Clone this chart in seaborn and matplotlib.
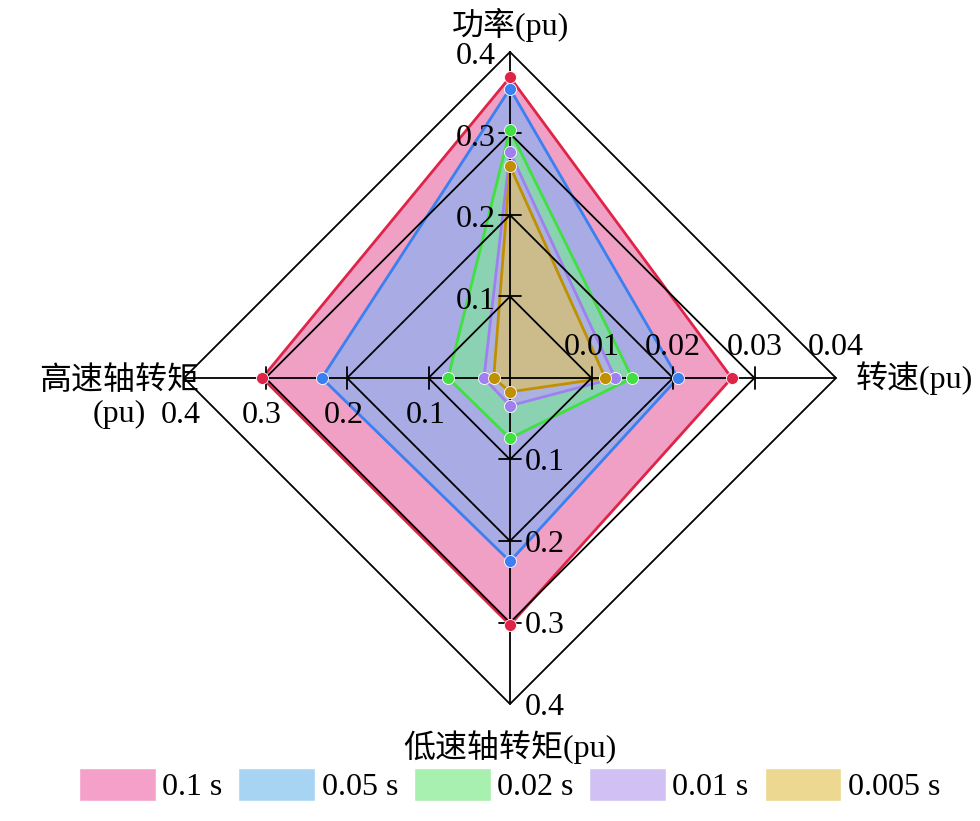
import numpy as np
import seaborn as sns
import matplotlib.pyplot as plt
from matplotlib.patches import Patch

sns.set_style('white')
plt.rcParams['font.family'] = ['Liberation Serif', 'Noto Sans CJK SC']
plt.rcParams['text.color'] = 'black'

# axes: top, right, bottom, left
axis_names = ['功率(pu)', '转速(pu)', '低速轴转矩(pu)', '高速轴转矩\n(pu)']
axis_max = [0.4, 0.04, 0.4, 0.4]
top_ticks = ['0.1', '0.2', '0.3', '0.4']
right_ticks = ['0.01', '0.02', '0.03', '0.04']

series = ['0.1 s', '0.05 s', '0.02 s', '0.01 s', '0.005 s']
v_01 = [0.369, 0.0272, 0.303, 0.304]
v_005 = [0.355, 0.0206, 0.225, 0.231]
v_002 = [0.304, 0.0150, 0.074, 0.076]
v_001 = [0.277, 0.0129, 0.034, 0.032]
v_0005 = [0.260, 0.0117, 0.017, 0.020]
values = [v_01, v_005, v_002, v_001, v_0005]

fills = ['#ec80b0', '#90b0f0', '#80e0a0', '#b8a8f0', '#d8c070']
edges = ['#e02448', '#3a80f0', '#40e040', '#a080f0', '#c09000']
legend_cols = ['#f4a0c8', '#a8d4f4', '#a8f0b0', '#d0c0f4', '#ecd890']

dirs = np.array([[0, 1], [1, 0], [0, -1], [-1, 0]])

fig = plt.figure(figsize=(9.8, 8.21), dpi=100)
ax = fig.add_axes([0, 0, 1, 1])
ax.set_xlim(-510 / 326, 470 / 326)
ax.set_ylim((378 - 821) / 326, 378 / 326)
ax.axis('off')

# grid diamonds and axes (drawn over the fills)
for r in [0.25, 0.5, 0.75, 1.0]:
    pts = np.vstack([dirs * r, dirs[:1] * r])
    ax.plot(pts[:, 0], pts[:, 1], color='black', lw=1.3, zorder=5)
for d in dirs:
    ax.plot([0, d[0]], [0, d[1]], color='black', lw=1.3, zorder=5)
    for r in [0.25, 0.5, 0.75]:
        t = 0.035
        p = d * r
        ax.plot([p[0] - d[1] * t, p[0] + d[1] * t], [p[1] - d[0] * t, p[1] + d[0] * t],
                color='black', lw=1.3, zorder=5)

# series polygons
for vals, fc, ec in zip(values, fills, edges):
    pts = np.array([dirs[i] * vals[i] / axis_max[i] for i in range(4)])
    ax.fill(pts[:, 0], pts[:, 1], color=fc, alpha=0.75, zorder=2)
    ax.plot(np.append(pts[:, 0], pts[0, 0]), np.append(pts[:, 1], pts[0, 1]), color=ec, lw=2, zorder=3)
    ax.scatter(pts[:, 0], pts[:, 1], s=75, color=ec, edgecolor='white', linewidth=0.6, zorder=6)

fs = 23
for i, r in enumerate([0.25, 0.5, 0.75, 1.0]):
    ax.text(-0.045, r - 0.015, top_ticks[i], ha='right', va='center', fontsize=fs)
    ax.text(r, 0.05, right_ticks[i], ha='center', va='bottom', fontsize=fs)
    ax.text(0.045, -r - 0.01, top_ticks[i], ha='left', va='center', fontsize=fs)
    ax.text(-r - 0.01, -0.07, top_ticks[i], ha='center', va='top', fontsize=fs)

ax.text(0, 1.03, axis_names[0], ha='center', va='bottom', fontsize=fs)
ax.text(1.06, 0, axis_names[1], ha='left', va='center', fontsize=fs)
ax.text(0, -1.08, axis_names[2], ha='center', va='top', fontsize=fs)
ax.text(-1.2, -0.06, axis_names[3], ha='center', va='center', fontsize=fs, multialignment='center')

handles = [Patch(facecolor=c, label=s) for c, s in zip(legend_cols, series)]
fig.legend(handles=handles, loc='lower center', bbox_to_anchor=(0.52, -0.012), ncol=5, frameon=False,
           fontsize=fs, handlelength=2.4, handleheight=1.2, columnspacing=0.5, handletextpad=0.2)

fig.savefig('out.png', dpi=100)
